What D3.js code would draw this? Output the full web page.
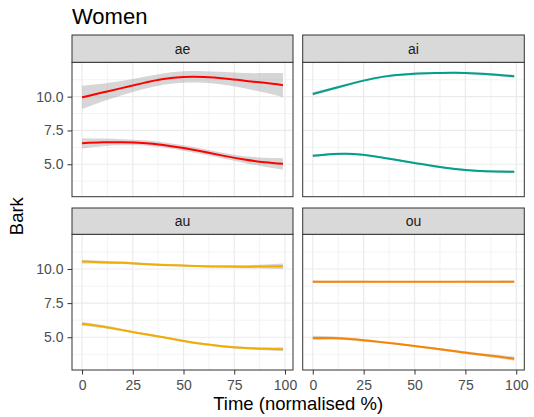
<!DOCTYPE html>
<html>
<head>
<meta charset="utf-8">
<script src="https://cdn.jsdelivr.net/npm/d3@7"></script>
<style>
  body { margin: 0; background: #fff; }
  text { font-family: "Liberation Sans", Arial, sans-serif; }
</style>
</head>
<body>
<div id="chart"></div>
<script>
// facets and their colours
const vowels = ["ae", "ai", "au", "ou"];
const colours = ["#FF0000", "#00A08A", "#F2AD00", "#F98400"];

// normalised time (x)
const time = [0, 10, 20, 30, 40, 50, 60, 70, 80, 90, 99];

// smoothed Bark values, upper and lower track, with ribbon half widths
const aeHigh = [9.95, 10.3, 10.65, 11.0, 11.3, 11.45, 11.45, 11.35, 11.18, 11.02, 10.85];
const aeHighSe = [0.86, 0.66, 0.52, 0.45, 0.42, 0.42, 0.43, 0.47, 0.56, 0.72, 0.9];
const aeLow = [6.55, 6.62, 6.63, 6.58, 6.43, 6.2, 5.92, 5.62, 5.35, 5.15, 5.03];
const aeLowSe = [0.38, 0.28, 0.22, 0.2, 0.2, 0.2, 0.2, 0.21, 0.25, 0.33, 0.42];

const aiHigh = [10.2, 10.6, 11.0, 11.35, 11.58, 11.7, 11.75, 11.77, 11.72, 11.62, 11.5];
const aiHighSe = [0.12, 0.1, 0.09, 0.08, 0.08, 0.08, 0.08, 0.08, 0.09, 0.1, 0.12];
const aiLow = [5.62, 5.75, 5.76, 5.6, 5.35, 5.1, 4.85, 4.65, 4.52, 4.46, 4.44];
const aiLowSe = [0.1, 0.08, 0.08, 0.07, 0.07, 0.07, 0.07, 0.07, 0.08, 0.08, 0.1];

const auHigh = [10.54, 10.5, 10.45, 10.37, 10.3, 10.25, 10.2, 10.18, 10.17, 10.18, 10.2];
const auHighSe = [0.14, 0.11, 0.09, 0.08, 0.08, 0.08, 0.08, 0.09, 0.11, 0.15, 0.2];
const auLow = [5.98, 5.78, 5.52, 5.25, 5.0, 4.73, 4.5, 4.33, 4.22, 4.15, 4.12];
const auLowSe = [0.14, 0.11, 0.09, 0.08, 0.08, 0.08, 0.08, 0.08, 0.09, 0.11, 0.14];

const ouHigh = [9.07, 9.07, 9.07, 9.07, 9.07, 9.07, 9.07, 9.07, 9.07, 9.07, 9.07];
const ouHighSe = [0.09, 0.07, 0.06, 0.05, 0.05, 0.05, 0.05, 0.05, 0.06, 0.07, 0.09];
const ouLow = [4.95, 4.94, 4.85, 4.7, 4.54, 4.36, 4.17, 3.97, 3.78, 3.6, 3.43];
const ouLowSe = [0.16, 0.12, 0.1, 0.09, 0.08, 0.08, 0.08, 0.09, 0.1, 0.12, 0.15];

const xTicks = [0, 25, 50, 75, 100];
const xMinor = [12.5, 37.5, 62.5, 87.5];
const yTicks = [5, 7.5, 10];
const yMinor = [3.75, 6.25, 8.75, 11.25];

const curves = {
  ae: [[aeHigh, aeHighSe], [aeLow, aeLowSe]],
  ai: [[aiHigh, aiHighSe], [aiLow, aiLowSe]],
  au: [[auHigh, auHighSe], [auLow, auLowSe]],
  ou: [[ouHigh, ouHighSe], [ouLow, ouLowSe]]
};

const width = 534, height = 417;
const svg = d3.select("#chart").append("svg")
  .attr("width", width).attr("height", height);

// panel layout
const cols = [[72, 293], [302.7, 524.3]];
const rows = [{ strip: 35, top: 62.3, bottom: 196.7 }, { strip: 208, top: 234.3, bottom: 370 }];

svg.append("text")
  .attr("x", 72).attr("y", 23.5)
  .attr("font-size", "22px").attr("fill", "#000")
  .text("Women");

vowels.forEach((v, i) => {
  const c = cols[i % 2], r = rows[Math.floor(i / 2)];
  const x = d3.scaleLinear().domain([-4.95, 103.95]).range(c);
  const y = d3.scaleLinear().domain([2.6, 12.54]).range([r.bottom, r.top]);
  const g = svg.append("g");

  // grid
  g.selectAll(".xmin").data(xMinor).join("line")
    .attr("x1", d => x(d)).attr("x2", d => x(d)).attr("y1", r.top).attr("y2", r.bottom)
    .attr("stroke", "#EBEBEB").attr("stroke-width", 0.6);
  g.selectAll(".ymin").data(yMinor).join("line")
    .attr("y1", d => y(d)).attr("y2", d => y(d)).attr("x1", c[0]).attr("x2", c[1])
    .attr("stroke", "#EBEBEB").attr("stroke-width", 0.6);
  g.selectAll(".xmaj").data(xTicks).join("line")
    .attr("x1", d => x(d)).attr("x2", d => x(d)).attr("y1", r.top).attr("y2", r.bottom)
    .attr("stroke", "#EBEBEB").attr("stroke-width", 1.2);
  g.selectAll(".ymaj").data(yTicks).join("line")
    .attr("y1", d => y(d)).attr("y2", d => y(d)).attr("x1", c[0]).attr("x2", c[1])
    .attr("stroke", "#EBEBEB").attr("stroke-width", 1.2);

  const area = d3.area().curve(d3.curveNatural)
    .x((d, j) => x(time[j]))
    .y0(d => y(d[0] - d[1]))
    .y1(d => y(d[0] + d[1]));
  const line = d3.line().curve(d3.curveNatural)
    .x((d, j) => x(time[j]))
    .y(d => y(d));

  curves[v].forEach(([m, se]) => {
    const pts = m.map((val, j) => [val, se[j]]);
    g.append("path").attr("d", area(pts))
      .attr("fill", "#999999").attr("fill-opacity", 0.4);
  });
  curves[v].forEach(([m]) => {
    g.append("path").attr("d", line(m))
      .attr("fill", "none").attr("stroke", colours[i]).attr("stroke-width", 2);
  });

  // border
  g.append("rect").attr("x", c[0]).attr("y", r.top)
    .attr("width", c[1] - c[0]).attr("height", r.bottom - r.top)
    .attr("fill", "none").attr("stroke", "#333333").attr("stroke-width", 1);

  // strip
  g.append("rect").attr("x", c[0]).attr("y", r.strip)
    .attr("width", c[1] - c[0]).attr("height", r.top - r.strip)
    .attr("fill", "#D9D9D9").attr("stroke", "#333333").attr("stroke-width", 1);
  g.append("text")
    .attr("x", (c[0] + c[1]) / 2).attr("y", (r.strip + r.top) / 2 + 5)
    .attr("text-anchor", "middle").attr("font-size", "14px").attr("fill", "#1A1A1A")
    .text(v);

  // y axis on left column
  if (i % 2 === 0) {
    const ya = g.append("g").attr("transform", `translate(${c[0]},0)`)
      .call(d3.axisLeft(y).tickValues(yTicks).tickFormat(d3.format(".1f")).tickSize(4.5).tickPadding(4));
    ya.select(".domain").remove();
    ya.selectAll("line").attr("stroke", "#333333");
    ya.selectAll("text").attr("fill", "#4D4D4D").attr("font-size", "14px")
      .style("font-family", "'Liberation Sans', Arial, sans-serif");
  }
  // x axis on bottom row
  if (i >= 2) {
    const xa = g.append("g").attr("transform", `translate(0,${r.bottom})`)
      .call(d3.axisBottom(x).tickValues(xTicks).tickSize(4.5).tickPadding(5.5));
    xa.select(".domain").remove();
    xa.selectAll("line").attr("stroke", "#333333");
    xa.selectAll("text").attr("fill", "#4D4D4D").attr("font-size", "14px")
      .style("font-family", "'Liberation Sans', Arial, sans-serif");
  }
});

svg.append("text")
  .attr("x", (72 + 524.3) / 2).attr("y", 409.5)
  .attr("text-anchor", "middle").attr("font-size", "18.5px").attr("fill", "#000")
  .text("Time (normalised %)");

svg.append("text")
  .attr("transform", `translate(23,${(62.3 + 370) / 2}) rotate(-90)`)
  .attr("text-anchor", "middle").attr("font-size", "18.5px").attr("fill", "#000")
  .text("Bark");
</script>
</body>
</html>
